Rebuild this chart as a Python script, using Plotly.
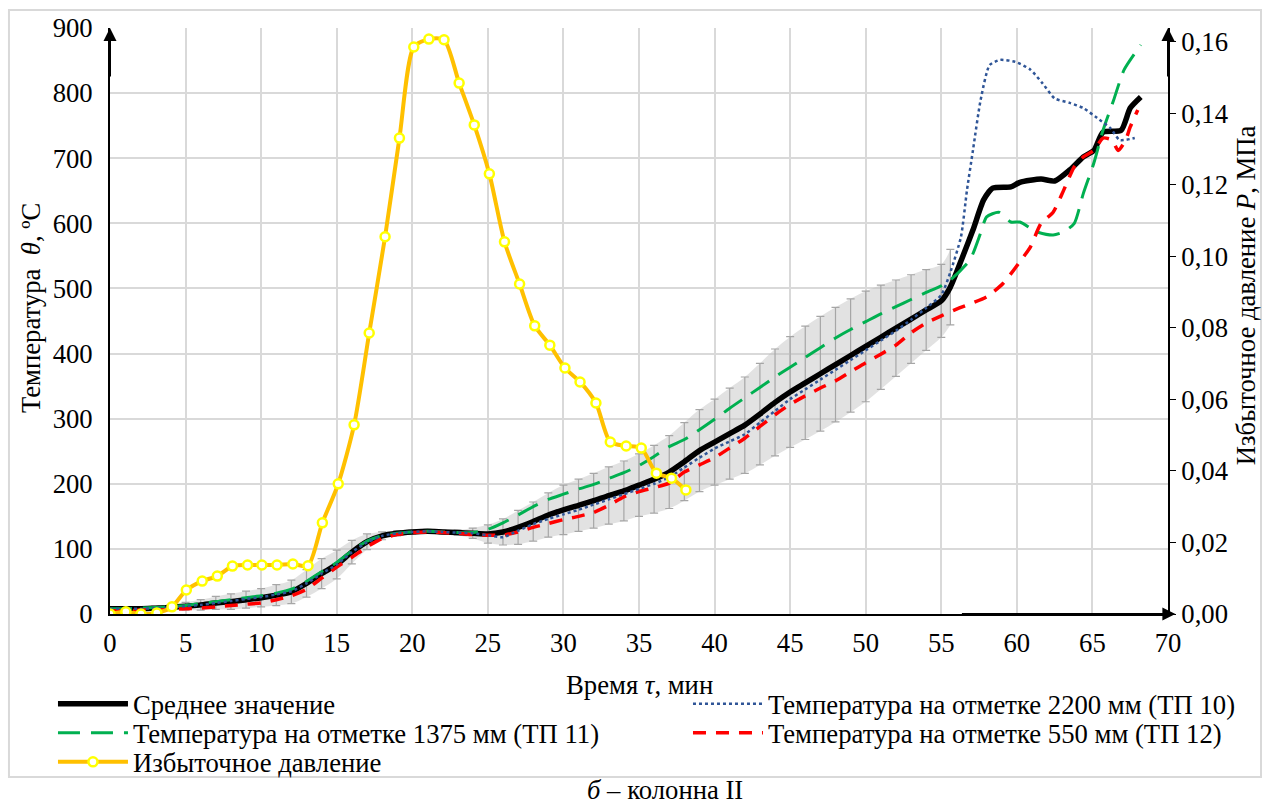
import plotly.graph_objects as go

# ---------------- data ----------------
t_mean = [0, 1, 2, 3, 4, 5, 6, 7, 8, 9, 10, 11, 12, 13, 14, 15, 16, 17, 18, 19, 20,
          21, 22, 23, 24, 25, 26, 27, 28, 29, 30, 31, 32, 33, 34, 35, 36, 37, 38, 39, 40,
          41, 42, 43, 44, 45, 46, 47, 48, 49, 50, 51, 52, 53, 54, 55,
          55.6, 56.4, 57.1, 57.8, 58.4, 59.6, 60.2, 61.6, 62.5, 63.5, 64.4, 65.1, 65.7,
          66.9, 67.5, 68.2]
mean_T = [8, 8, 8, 9, 10, 12, 14, 17, 19, 22, 25, 29, 34, 47, 62, 76, 95, 111, 120, 124, 126,
          127, 126, 125, 124, 123, 126, 133, 142, 152, 160, 167, 174, 182, 189, 198, 207, 218, 234, 251, 264,
          277, 290, 307, 325, 341, 355, 369, 383, 397, 411, 425, 439, 453, 467, 481,
          502, 548, 590, 636, 654, 656, 663, 668, 665, 682, 702, 712, 740,
          743, 777, 794]
# half-widths of the error bars (first 57 points of the mean series)
mean_err = [2, 2, 3, 3, 4, 6, 8, 10, 12, 13, 14, 16, 18, 21, 23, 22, 18, 12, 6, 4, 3,
            3, 3, 4, 8, 14, 20, 26, 30, 34, 38, 40, 42, 44, 46, 48, 52, 56, 60, 63, 66,
            70, 74, 78, 82, 85, 87, 88, 88, 87, 85, 80, 74, 68, 62, 56,
            58]

t_tp10 = [0, 1, 2, 3, 4, 5, 6, 7, 8, 9, 10, 11, 12, 13, 14, 15, 16, 17, 18, 19, 20,
          21, 22, 23, 24, 25, 26, 27, 28, 29, 30, 31, 32, 33, 34, 35, 36, 37, 38, 39, 40,
          41, 42, 43, 44, 45, 46, 47, 48, 49, 50, 51, 52, 53, 54, 55,
          55.6, 56.3, 56.7, 57.1, 57.6, 58.2, 58.9, 59.9, 60.9, 61.7, 62.5, 63.5, 64.4,
          65.3, 66.2, 66.8, 67.8]
tp10 = [8, 8, 8, 9, 10, 12, 14, 17, 20, 23, 26, 30, 35, 47, 62, 76, 95, 110, 120, 124, 126,
        127, 126, 125, 124, 121, 118, 128, 138, 146, 153, 160, 168, 176, 184, 192, 200, 210, 225, 240, 254,
        265, 276, 294, 312, 330, 345, 360, 375, 390, 405, 420, 435, 452, 470, 490,
        525, 579, 651, 713, 789, 843, 851, 848, 836, 815, 792, 785, 777,
        762, 746, 728, 731]

t_tp11 = [0, 1, 2, 3, 4, 5, 6, 7, 8, 9, 10, 11, 12, 13, 14, 15, 16, 17, 18, 19, 20,
          21, 22, 23, 24, 25, 26, 27, 28, 29, 30, 31, 32, 33, 34, 35, 36, 37, 38, 39, 40,
          41, 42, 43, 44, 45, 46, 47, 48, 49, 50, 51, 52, 53, 54, 55,
          55.6, 56.9, 57.6, 58.0, 58.8, 59.6, 60.2, 61.3, 62.4, 63.1, 63.8, 64.4, 65.1,
          65.7, 66.4, 67.1, 68.2]
tp11 = [8, 8, 9, 10, 11, 13, 16, 19, 22, 25, 28, 32, 38, 50, 65, 79, 97, 112, 120, 124, 126,
        127, 126, 125, 125, 130, 140, 152, 165, 176, 184, 192, 199, 208, 217, 228, 242, 257, 268, 283, 299,
        316, 332, 348, 364, 379, 394, 409, 424, 437, 449, 461, 472, 483, 494, 504,
        513, 544, 585, 610, 617, 602, 602, 587, 582, 587, 600, 646, 693,
        743, 789, 836, 874]

t_tp12 = [0, 1, 2, 3, 4, 5, 6, 7, 8, 9, 10, 11, 12, 13, 14, 15, 16, 17, 18, 19, 20,
          21, 22, 23, 24, 25, 26, 27, 28, 29, 30, 31, 32, 33, 34, 35, 36, 37, 38, 39, 40,
          41, 42, 43, 44, 45, 46, 47, 48, 49, 50, 51, 52, 53, 54, 55,
          56.2, 58.0, 59.1, 60.1, 60.9, 61.6, 62.4, 63.1, 63.8, 64.4, 65.1, 65.7, 66.3,
          66.7, 67.2, 67.5, 68.0]
tp12 = [5, 5, 6, 6, 7, 8, 9, 11, 13, 15, 17, 22, 28, 38, 55, 72, 87, 103, 116, 122, 125,
        126, 125, 124, 122, 121, 121, 126, 133, 139, 145, 150, 156, 167, 180, 188, 194, 201, 218, 229, 240,
        255, 270, 288, 306, 322, 335, 347, 358, 372, 386, 399, 413, 432, 447, 458,
        470, 487, 508, 538, 564, 600, 617, 651, 687, 702, 712, 731, 728,
        712, 728, 748, 774]

t_press = [0, 1.05, 2.05, 3.1, 4.1, 5.05, 6.1, 7.1, 8.1, 9.1, 10.05, 11.05, 12.1, 13.1,
           14.05, 15.1, 16.15, 17.15, 18.2, 19.15, 20.1, 21.1, 22.1, 23.1, 24.1, 25.1,
           26.1, 27.1, 28.1, 29.1, 30.1, 31.1, 32.15, 33.1, 34.15, 35.15, 36.15, 37.15, 38.1]
press = [0, 0.0006, 0, 0.0003, 0.002, 0.0067, 0.0092, 0.0106, 0.0134, 0.0137, 0.0137,
         0.0137, 0.014, 0.0135, 0.0255, 0.0364, 0.0529, 0.0786, 0.1055, 0.1331, 0.1586,
         0.1608, 0.1606, 0.1485, 0.1368, 0.1231, 0.1041, 0.0923, 0.0806, 0.0752, 0.0688,
         0.0649, 0.059, 0.0481, 0.047, 0.0464, 0.0394, 0.038, 0.0347]

p_tickvals = [0, 0.02, 0.04, 0.06, 0.08, 0.10, 0.12, 0.14, 0.16]
p_ticktext = ["0,00", "0,02", "0,04", "0,06", "0,08", "0,10", "0,12", "0,14", "0,16"]

names = ["Среднее значение",
         "Температура на отметке 2200 мм (ТП 10)",
         "Температура на отметке 1375 мм (ТП 11)",
         "Температура на отметке 550 мм (ТП 12)",
         "Избыточное давление"]
x_title = "Время <i>τ</i>, мин"
y_title = "Температура  <i>θ</i>, ºC"
y2_title = "Избыточное давление <i>P</i>, МПа"
caption = "<i>б</i> – колонна II"

# ---------------- figure ----------------
FONT = "Liberation Serif"
FS = 26.7
fig = go.Figure()

n_err = len(mean_err)
upper = [m + e for m, e in zip(mean_T[:n_err], mean_err)]
lower = [m - e for m, e in zip(mean_T[:n_err], mean_err)]

fig.add_trace(go.Scatter(x=t_mean[:n_err], y=lower, mode="lines", line=dict(width=0),
                         showlegend=False, hoverinfo="skip", line_shape="spline"))
fig.add_trace(go.Scatter(x=t_mean[:n_err], y=upper, mode="lines", line=dict(width=0),
                         fill="tonexty", fillcolor="rgba(190,190,190,0.45)",
                         showlegend=False, hoverinfo="skip", line_shape="spline"))
fig.add_trace(go.Scatter(x=t_mean[:n_err], y=mean_T[:n_err], mode="lines",
                         line=dict(width=0, color="rgba(0,0,0,0)"),
                         error_y=dict(type="data", array=mean_err, color="#A6A6A6",
                                      thickness=1.2, width=4),
                         showlegend=False, hoverinfo="skip"))

fig.add_trace(go.Scatter(x=t_mean, y=mean_T, mode="lines", name=names[0],
                         line=dict(color="black", width=5.5, shape="spline", smoothing=0.6),
                         legend="legend"))
fig.add_trace(go.Scatter(x=t_tp11, y=tp11, mode="lines", name=names[2],
                         line=dict(color="#00B050", width=3, dash="22px,11px",
                                   shape="spline", smoothing=0.6),
                         legend="legend3"))
fig.add_trace(go.Scatter(x=t_tp12, y=tp12, mode="lines", name=names[3],
                         line=dict(color="#FF0000", width=3.5, dash="13px,10px",
                                   shape="spline", smoothing=0.6),
                         legend="legend4"))
fig.add_trace(go.Scatter(x=t_tp10, y=tp10, mode="lines", name=names[1],
                         line=dict(color="#2F5597", width=2.5, dash="dot",
                                   shape="spline", smoothing=0.6),
                         legend="legend2"))
fig.add_trace(go.Scatter(x=t_press, y=press, mode="lines+markers", name=names[4],
                         yaxis="y2",
                         line=dict(color="#FFC000", width=4, shape="spline", smoothing=0.7),
                         marker=dict(symbol="circle", size=9, color="white",
                                     line=dict(color="#FFFF00", width=2.5)),
                         legend="legend5"))

lc = dict(orientation="v", xanchor="left", yanchor="top", itemwidth=70,
          font=dict(size=FS, family=FONT), bgcolor="rgba(0,0,0,0)")
XL, XR = -0.0539, 0.5463
Y1, Y2, Y3 = -0.1126, -0.1621, -0.2116

fig.update_layout(
    width=1263, height=807,
    margin=dict(l=110, r=95, t=28, b=193, autoexpand=False),
    plot_bgcolor="white", paper_bgcolor="white",
    font=dict(family=FONT, size=FS, color="black"),
    xaxis=dict(range=[0, 70], dtick=5, showgrid=True, gridcolor="#D9D9D9", gridwidth=1.5,
               zeroline=False, showline=True, linecolor="black", linewidth=1.5,
               ticks="", tickfont=dict(size=FS, family=FONT), ticklabelstandoff=4),
    yaxis=dict(range=[0, 900], dtick=100, showgrid=True, gridcolor="#D9D9D9", gridwidth=1.5,
               zeroline=False, showline=True, linecolor="black", linewidth=2,
               ticks="", tickfont=dict(size=FS, family=FONT), ticklabelstandoff=10),
    yaxis2=dict(range=[0, 0.1639], overlaying="y", side="right", tickvals=p_tickvals,
                ticktext=p_ticktext, showgrid=False, zeroline=False, showline=True,
                linecolor="black", linewidth=2, ticks="outside", ticklen=6,
                tickcolor="black", tickfont=dict(size=FS, family=FONT)),
    legend=dict(x=XL, y=Y1, **lc),
    legend2=dict(x=XR, y=Y1, **lc),
    legend3=dict(x=XL, y=Y2, **lc),
    legend4=dict(x=XR, y=Y2, **lc),
    legend5=dict(x=XL, y=Y3, **lc),
    showlegend=True,
)

# axis titles
fig.add_annotation(x=0.5, y=-0.1212, xref="paper", yref="paper", text=x_title,
                   showarrow=False, font=dict(size=FS, family=FONT), yanchor="middle")
fig.add_annotation(x=-0.0747, y=0.522, xref="paper", yref="paper", text=y_title,
                   showarrow=False, font=dict(size=FS, family=FONT), textangle=-90,
                   xanchor="center", yanchor="middle")
fig.add_annotation(x=1.0737, y=0.544, xref="paper", yref="paper", text=y2_title,
                   showarrow=False, font=dict(size=FS, family=FONT), textangle=-90,
                   xanchor="center", yanchor="middle")

# axis arrows
fig.add_annotation(x=0, y=900, xref="x", yref="y", ax=0, ay=50, text="", showarrow=True,
                   arrowhead=2, arrowsize=1.3, arrowwidth=2, arrowcolor="black")
fig.add_annotation(x=1, y=1, xref="paper", yref="paper", ax=0, ay=50, text="", showarrow=True,
                   arrowhead=2, arrowsize=1.3, arrowwidth=2, arrowcolor="black")
fig.add_annotation(x=1.007, y=0, xref="paper", yref="paper", ax=-215, ay=0, text="",
                   showarrow=True, arrowhead=2, arrowsize=1.3, arrowwidth=2,
                   arrowcolor="black")

# outer frame and caption
fig.add_shape(type="rect", xref="paper", yref="paper", x0=-0.0955, x1=1.0879,
              y0=-0.278, y1=1.0307, line=dict(color="#D9D9D9", width=2),
              fillcolor="rgba(0,0,0,0)", layer="below")
fig.add_annotation(x=0.5246, y=-0.3003, xref="paper", yref="paper", text=caption,
                   showarrow=False, font=dict(size=FS, family=FONT), yanchor="middle")

fig.write_html("out.html")
